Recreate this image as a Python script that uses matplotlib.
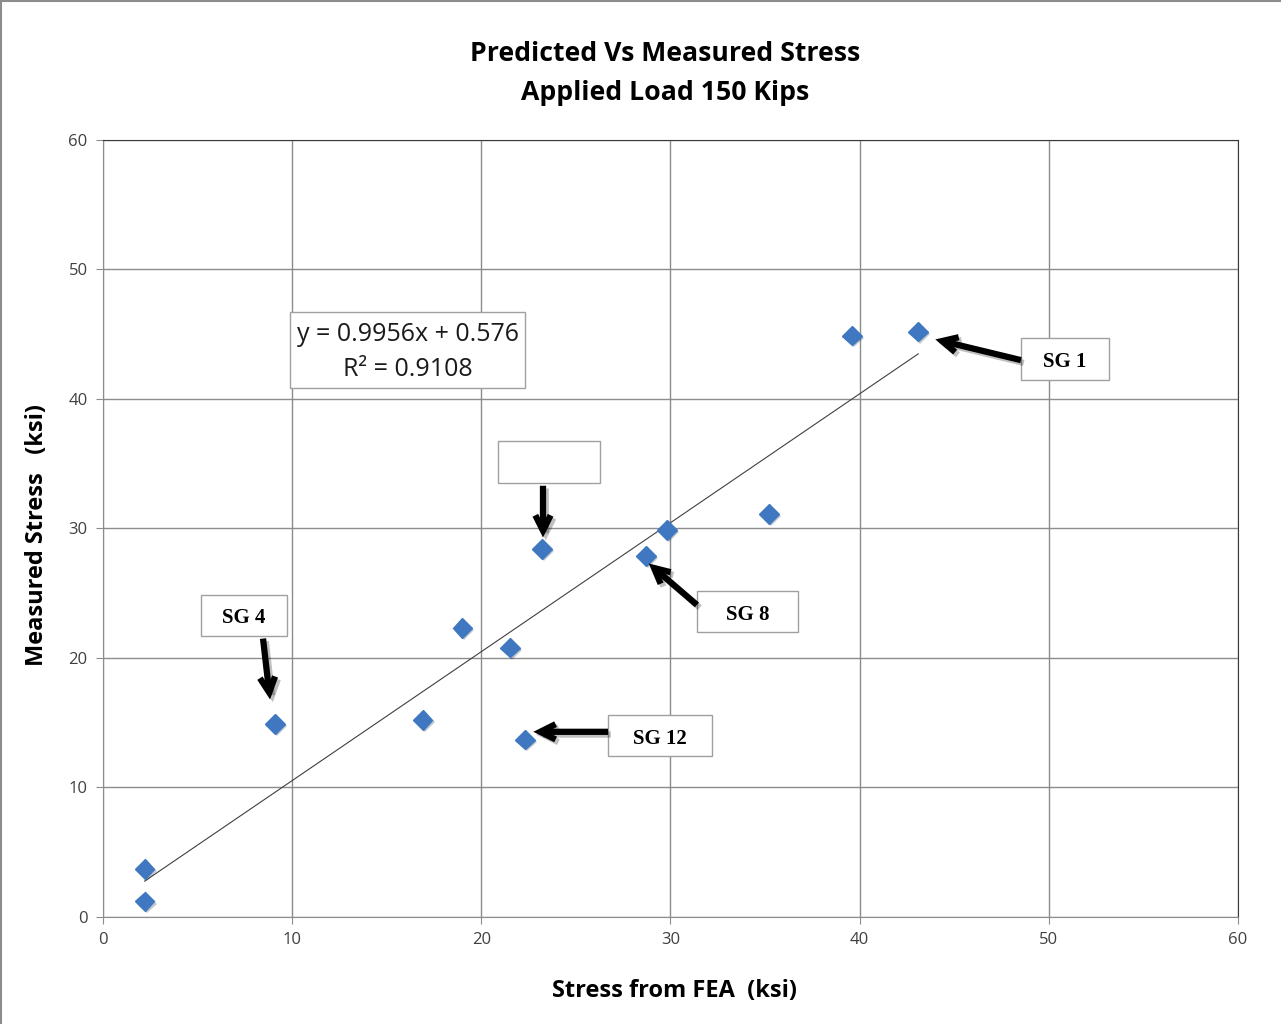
import matplotlib
matplotlib.use("Agg")
import matplotlib.pyplot as plt
import matplotlib.patheffects as pe
from matplotlib.patches import Rectangle
from matplotlib.lines import Line2D

# Strain gauge readings: FEA prediction vs measured (ksi)
fea_stress = [2.2, 2.2, 9.1, 16.9, 19.0, 21.5, 22.3, 23.2, 28.7, 29.8, 35.2, 39.6, 43.1]
measured_stress = [1.2, 3.7, 14.9, 15.2, 22.3, 20.8, 13.7, 28.4, 27.9, 29.9, 31.1, 44.9, 45.2]

slope = 0.9956
intercept = 0.576
r_squared = 0.9108

ticks = [0, 10, 20, 30, 40, 50, 60]

# gauge callouts: label, box centre, arrow tail, arrow head (data units)
callouts = [
    ("SG 4", (7.45, 23.3), (8.46, 21.5), (8.83, 16.8)),
    ("", (23.6, 35.1), (23.26, 33.3), (23.26, 29.3)),
    ("SG 1", (50.85, 43.1), (48.53, 43.0), (44.0, 44.6)),
    ("SG 8", (34.07, 23.6), (31.40, 24.1), (28.85, 27.3)),
    ("SG 12", (29.44, 14.0), (26.70, 14.3), (22.75, 14.3)),
]
box_sizes = {"SG 4": (4.55, 3.17), "": (5.4, 3.25), "SG 1": (4.65, 3.25),
             "SG 8": (5.35, 3.17), "SG 12": (5.5, 3.17)}

fig = plt.figure(figsize=(12.81, 10.24), dpi=100)
ax = fig.add_axes([0.0804, 0.1045, 0.886, 0.7588])

ax.set_xlim(0, 60)
ax.set_ylim(0, 60)
ax.set_xticks(ticks)
ax.set_yticks(ticks)
ax.grid(True, color="#8c8c8c", linewidth=1.0)
ax.set_axisbelow(True)
for side in ["left", "bottom"]:
    ax.spines[side].set_color("#8c8c8c")
for side in ["top", "right"]:
    ax.spines[side].set_color("#3a3a3a")
ax.tick_params(direction="out", length=5, color="#8c8c8c", labelcolor="#404040",
               labelsize=12, pad=6)
for lab in ax.get_xticklabels() + ax.get_yticklabels():
    lab.set_family("Open Sans")

# linear trendline over the data range
x0, x1 = min(fea_stress), max(fea_stress)
ax.plot([x0, x1], [slope * x0 + intercept, slope * x1 + intercept],
        color="#404040", linewidth=0.8, zorder=2)

ax.plot(fea_stress, measured_stress, linestyle="none", marker="D", markersize=10,
        color="#3f78c0", markeredgecolor="#3f78c0", zorder=3,
        path_effects=[pe.SimplePatchShadow(offset=(1.5, -1.5), alpha=0.25), pe.Normal()])

# equation box
eq_w, eq_h = 12.42, 5.87
ax.add_patch(Rectangle((16.1 - eq_w / 2, 43.78 - eq_h / 2), eq_w, eq_h,
                       facecolor="white", edgecolor="#a0a0a0", linewidth=1.0, zorder=4))
ax.text(16.1, 44.95, f"y = {slope}x + {intercept}", ha="center", va="center",
        fontsize=18, family="Open Sans", color="#1a1a1a", zorder=5)
ax.text(16.1, 42.25, f"R² = {r_squared}", ha="center", va="center",
        fontsize=18, family="Open Sans", color="#1a1a1a", zorder=5)

shadow = [pe.SimpleLineShadow(offset=(2, -2), alpha=0.25, shadow_color="black"), pe.Normal()]
for label, (cx, cy), tail, head in callouts:
    w, h = box_sizes[label]
    ax.add_patch(Rectangle((cx - w / 2, cy - h / 2), w, h, facecolor="white",
                           edgecolor="#a0a0a0", linewidth=1.0, zorder=4))
    if label:
        ax.text(cx, cy - 0.25, label, ha="center", va="center", fontsize=15, weight="bold",
                family="Liberation Serif", color="black", zorder=5)
    ax.annotate("", xy=head, xytext=tail, zorder=6,
                arrowprops=dict(arrowstyle="->,head_length=1.1,head_width=0.55",
                                color="black", linewidth=4.5, shrinkA=0, shrinkB=0,
                                capstyle="butt", joinstyle="miter",
                                path_effects=shadow))

fig.text(0.519, 1 - 54 / 1024, "Predicted Vs Measured Stress", ha="center", va="center",
         fontsize=19.2, weight="bold", family="Open Sans")
fig.text(0.519, 1 - 93 / 1024, "Applied Load 150 Kips", ha="center", va="center",
         fontsize=19.2, weight="bold", family="Open Sans")
fig.text(675 / 1281, 1 - 991 / 1024, "Stress from FEA  (ksi)", ha="center", va="center",
         fontsize=17, weight="bold", family="Open Sans")
fig.text(37 / 1281, 1 - 535 / 1024, "Measured Stress   (ksi)", ha="center", va="center",
         rotation=90, fontsize=17, weight="bold", family="Open Sans")

# outer chart border
fig.add_artist(Line2D([0.001, 1.0], [0.999, 0.999], color="#8c8c8c", linewidth=1.5))
fig.add_artist(Line2D([0.001, 0.001], [0.0, 0.999], color="#8c8c8c", linewidth=1.5))

fig.savefig("out.png", dpi=100)
